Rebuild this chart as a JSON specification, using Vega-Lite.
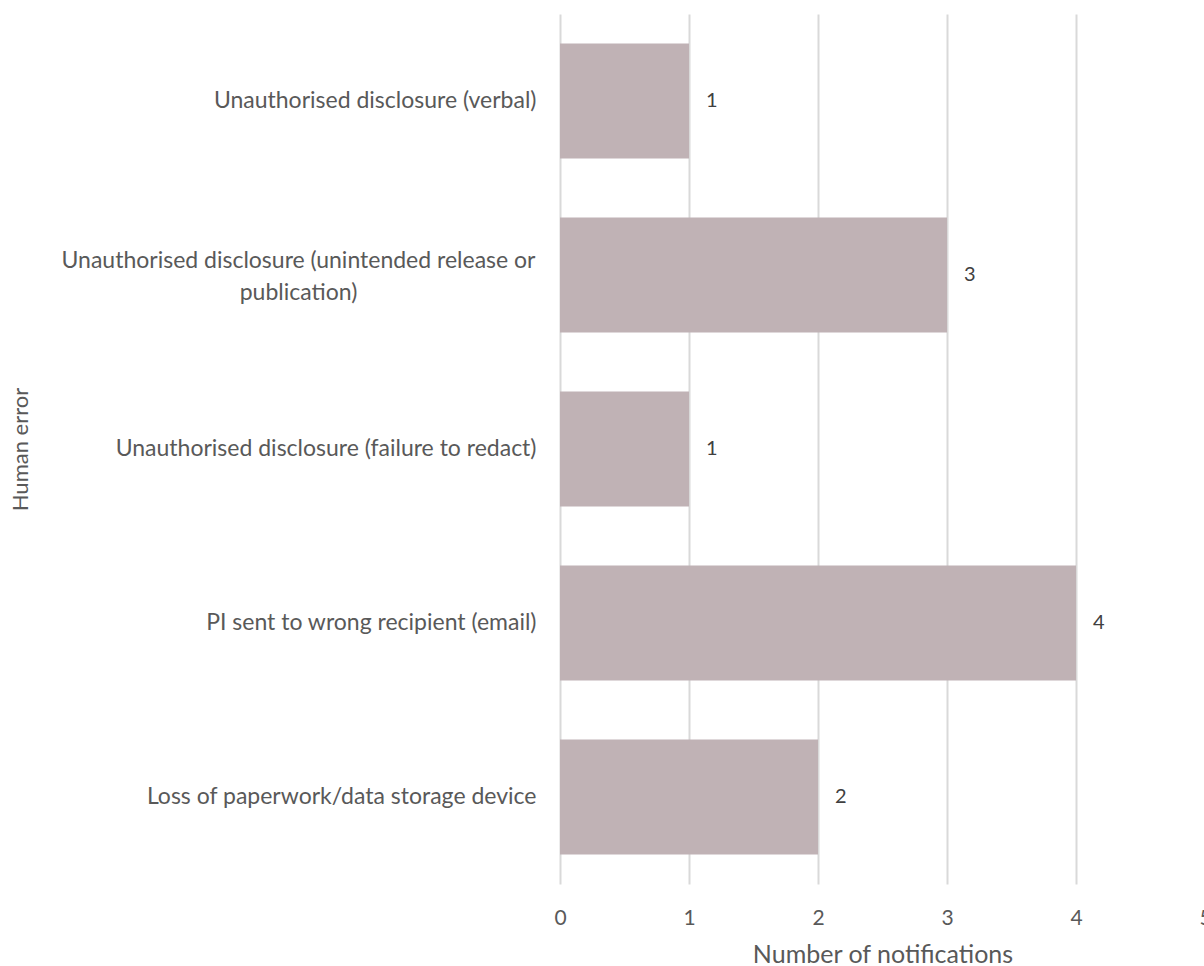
{
  "$schema": "https://vega.github.io/schema/vega-lite/v6.json",
  "autosize": "none",
  "padding": {"left": 560, "top": 14, "right": 0, "bottom": 82},
  "width": 645,
  "height": 870,
  "background": "white",
  "config": {
    "view": {"stroke": null},
    "font": "Lato",
    "text": {"font": "Lato"}
  },
  "data": {
    "values": [
      {"category": "Unauthorised disclosure (verbal)", "value": 1},
      {"category": "Unauthorised disclosure (unintended release or\npublication)", "value": 3},
      {"category": "Unauthorised disclosure (failure to redact)", "value": 1},
      {"category": "PI sent to wrong recipient (email)", "value": 4},
      {"category": "Loss of paperwork/data storage device", "value": 2}
    ]
  },
  "encoding": {
    "y": {
      "field": "category",
      "type": "nominal",
      "sort": null,
      "scale": {"paddingInner": 0.34, "paddingOuter": 0.17},
      "axis": {
        "title": "Human error",
        "titleFont": "Lato",
        "titleFontSize": 22,
        "titleFontWeight": "normal",
        "titleColor": "#595959",
        "titleX": -540,
        "titleY": 435,
        "titleAngle": 270,
        "titleAlign": "center",
        "titleBaseline": "middle",
        "labelFont": "Lato",
        "labelFontSize": 23,
        "labelColor": "#595959",
        "labelLimit": 600,
        "labelLineHeight": 32,
        "labelExpr": "split(datum.value, '\\n')",
        "labelAlign": {"condition": {"test": "indexof(datum.value, 'publication') >= 0", "value": "center"}, "value": "right"},
        "labelOffset": {"condition": {"test": "indexof(datum.value, 'publication') >= 0", "value": -14}, "value": 0},
        "labelPadding": {"condition": {"test": "indexof(datum.value, 'publication') >= 0", "value": 262}, "value": 24},
        "ticks": false,
        "domain": false,
        "grid": false
      }
    },
    "x": {
      "field": "value",
      "type": "quantitative",
      "scale": {"domain": [0, 5]},
      "axis": {
        "title": "Number of notifications",
        "titleFont": "Lato",
        "titleFontSize": 25,
        "titleFontWeight": "normal",
        "titleColor": "#595959",
        "titlePadding": 14,
        "labelFont": "Lato",
        "labelFontSize": 21,
        "labelColor": "#595959",
        "labelPadding": 23,
        "labelFlush": false,
        "values": [0, 1, 2, 3, 4, 5],
        "format": "d",
        "ticks": false,
        "domain": false,
        "grid": true,
        "gridColor": "#d9d9d9",
        "gridWidth": 2
      }
    }
  },
  "layer": [
    {"mark": {"type": "bar", "color": "#c0b2b5"}},
    {
      "mark": {"type": "text", "align": "left", "dx": 17, "fontSize": 20, "color": "#404040", "font": "Lato"},
      "encoding": {"text": {"field": "value", "type": "quantitative"}}
    }
  ]
}
